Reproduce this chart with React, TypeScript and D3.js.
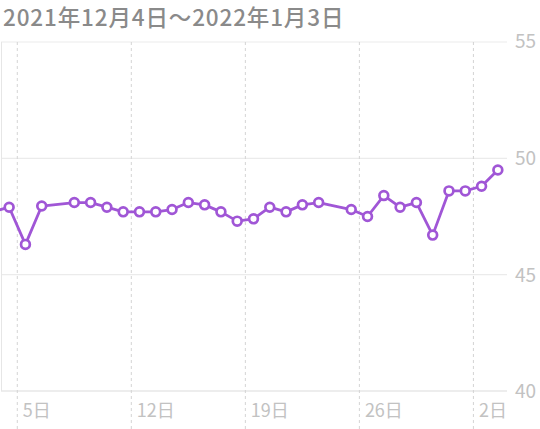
import React from "react";
import * as d3 from "d3";

const title = "2021年12月4日〜2022年1月3日";

const dates = [
  "2021-12-03", "2021-12-04", "2021-12-05", "2021-12-06", "2021-12-08", "2021-12-09",
  "2021-12-10", "2021-12-11", "2021-12-12", "2021-12-13", "2021-12-14", "2021-12-15",
  "2021-12-16", "2021-12-17", "2021-12-18", "2021-12-19", "2021-12-20", "2021-12-21",
  "2021-12-22", "2021-12-23", "2021-12-25", "2021-12-26", "2021-12-27", "2021-12-28",
  "2021-12-29", "2021-12-30", "2021-12-31", "2022-01-01", "2022-01-02", "2022-01-03",
];
const values = [
  47.7, 47.9, 46.3, 47.95, 48.1, 48.1,
  47.9, 47.7, 47.7, 47.7, 47.8, 48.1,
  48.0, 47.7, 47.3, 47.4, 47.9, 47.7,
  48.0, 48.1, 47.8, 47.5, 48.4, 47.9,
  48.1, 46.7, 48.6, 48.6, 48.8, 49.5,
];

const xTickDates = ["2021-12-05", "2021-12-12", "2021-12-19", "2021-12-26", "2022-01-02"];
const xTickLabels = ["5日", "12日", "19日", "26日", "2日"];
const yTicks = [40, 45, 50, 55];

const W = 540;
const H = 429;
const FONT = "'Noto Sans CJK JP', 'Noto Sans', sans-serif";
const PURPLE = "#a056d6";

const parse = (s: string) => {
  const [y, m, d] = s.split("-").map(Number);
  return new Date(y, m - 1, d);
};
const noon = (s: string) => {
  const d = parse(s);
  d.setHours(12);
  return d;
};

export default function App() {
  const x = d3
    .scaleTime()
    .domain([parse("2021-12-04"), parse("2022-01-04")])
    .range([1, 506]);
  const y = d3.scaleLinear().domain([40, 55]).range([391, 42]);

  const pts = dates.map((d, i) => ({ date: noon(d), v: values[i], visible: i > 0 }));
  const line = d3
    .line<{ date: Date; v: number }>()
    .x((p) => x(p.date))
    .y((p) => y(p.v));

  return (
    <svg
      width={W}
      height={H}
      style={{ position: "absolute", left: 0, top: 0, background: "#fff" }}
      fontFamily={FONT}
    >
      <text x={3} y={26} fontSize={22.5} fontWeight={500} fill="#8a8a8a" letterSpacing={0.85}>
        {title}
      </text>
      {yTicks.map((t) => (
        <g key={t}>
          <line
            x1={1}
            x2={507}
            y1={y(t)}
            y2={y(t)}
            stroke={t === 40 ? "#dcdcdc" : "#ebebeb"}
            strokeWidth={1.2}
          />
          <text
            x={536}
            y={y(t)}
            dy={t === 55 ? "0.3em" : "0.36em"}
            textAnchor="end"
            fontSize={19}
            fill="#c2c2c2"
          >
            {t}
          </text>
        </g>
      ))}
      <line x1={1.5} x2={1.5} y1={y(55)} y2={y(40)} stroke="#e6e6e6" strokeWidth={1} />
      {xTickDates.map((d, i) => {
        const xx = x(parse(d));
        return (
          <g key={d}>
            <line
              x1={xx}
              x2={xx}
              y1={y(55)}
              y2={H}
              stroke="#d4d4d4"
              strokeWidth={1}
              strokeDasharray="3,3"
            />
            <text x={xx + 5.5} y={416.5} fontSize={18} fill="#c2c2c2">
              {xTickLabels[i]}
            </text>
          </g>
        );
      })}
      <path
        d={line(pts) || ""}
        fill="none"
        stroke={PURPLE}
        strokeWidth={2.8}
        strokeLinejoin="round"
      />
      {pts
        .filter((p) => p.visible)
        .map((p, i) => (
          <circle
            key={i}
            cx={x(p.date)}
            cy={y(p.v)}
            r={4.4}
            fill="#fff"
            stroke={PURPLE}
            strokeWidth={2.7}
          />
        ))}
    </svg>
  );
}
